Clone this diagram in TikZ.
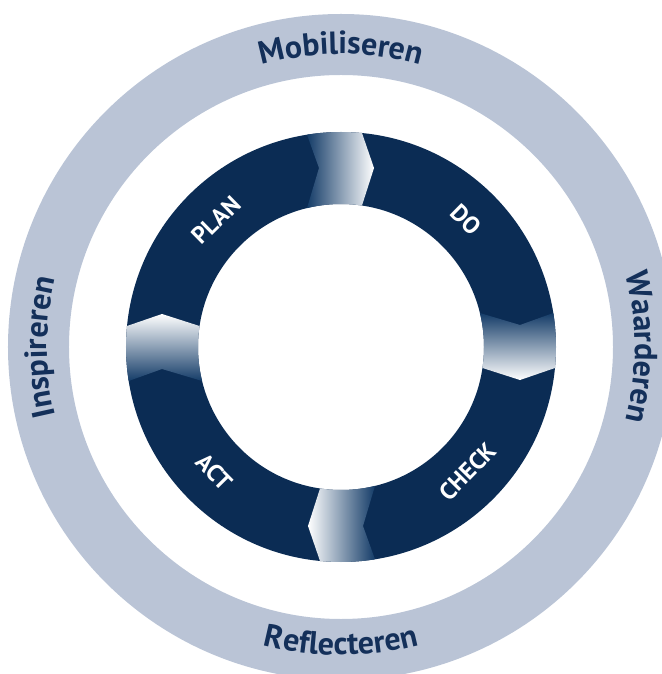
\documentclass[tikz,border=0pt]{standalone}
\usepackage{fontspec}
\setmainfont{PT Sans}
\usetikzlibrary{decorations.text}
\definecolor{navy}{HTML}{0B2C54}
\definecolor{ringgrey}{HTML}{BAC4D6}
\definecolor{txtnavy}{HTML}{14305A}
\definecolor{arrowdark}{HTML}{143C68}
\newcommand{\outerfont}{\bfseries\fontsize{32}{32}\selectfont\color{txtnavy}}
\begin{document}
\begin{tikzpicture}[x=1pt,y=1pt,
  phase/.style={text=white, inner sep=0pt, font=\bfseries\fontsize{24}{24}\selectfont},
  shT/.style={left color=arrowdark, right color=white},
  shR/.style={top color=arrowdark, bottom color=white},
  shB/.style={right color=arrowdark, left color=white},
  shL/.style={bottom color=arrowdark, top color=white},
  curvedtext/.style={decorate, decoration={text along path, text align=center, text={|\outerfont|#1}}}
  ]
\useasboundingbox (-341,-327) rectangle (320,347);
% outer grey ring
\fill[ringgrey, even odd rule] (0,0) circle (333) (0,0) circle (272);
% dark PDCA ring
\fill[navy, even odd rule] (0,0) circle (215) (0,0) circle (143);
% gradient chevron arrows
\foreach \b/\s in {90/shT, 0/shR, 270/shB, 180/shL}{
  \shade[\s] (\b+9.10:215) -- (\b+7.01:180.35) -- (\b+13.75:143)
    arc[start angle=\b+13.75, end angle=\b-8.44, radius=143]
    -- (\b-10.45:182.02) -- (\b-5.61:215)
    arc[start angle=\b-5.61, end angle=\b+9.10, radius=215] -- cycle;
}
% curved outer texts
\path[curvedtext=Mobiliseren] (130:293) arc[start angle=130, end angle=50, radius=293];
\path[curvedtext=Waarderen] (40:294) arc[start angle=40, end angle=-40, radius=294];
\path[curvedtext=Inspireren] (220:294) arc[start angle=220, end angle=140, radius=294];
\path[curvedtext=Reflecteren] (230:308) arc[start angle=230, end angle=310, radius=308];
% phase labels
\node[phase, rotate=44.5] (plan) at (134.5:178) {PLAN};
\node[phase, rotate=-44.5] (do) at (45.5:178) {DO};
\node[phase, rotate=45.5] (check) at (-44.5:178) {CHECK};
\node[phase, rotate=-45.5] (act) at (224.5:178) {ACT};
\end{tikzpicture}
\end{document}
